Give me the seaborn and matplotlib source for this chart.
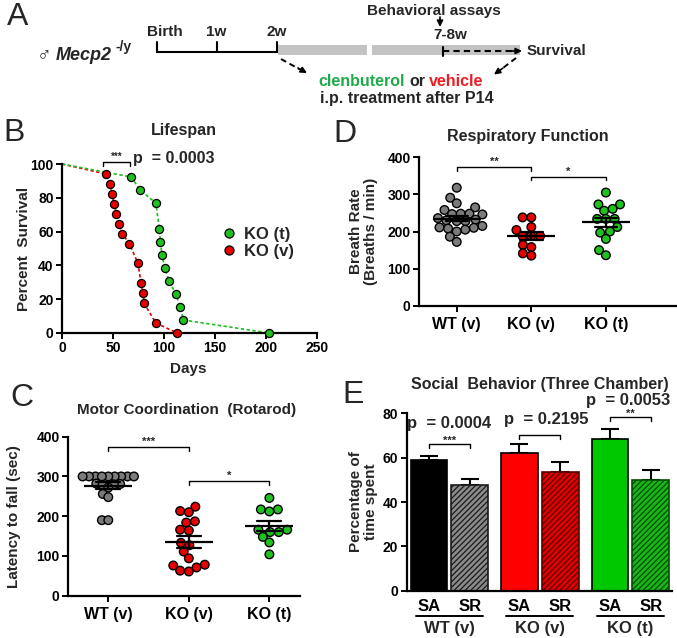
import numpy as np
import pandas as pd
import matplotlib
matplotlib.use("Agg")
import matplotlib.pyplot as plt
import seaborn as sns
from matplotlib.lines import Line2D
from matplotlib.patches import Rectangle
import matplotlib.transforms as mtransforms

# ---------------- data ----------------
groups = ["WT (v)", "KO (v)", "KO (t)"]

# Panel B - survival (days, % surviving)
ko_t_days = [0, 68, 76.5, 92, 95.5, 96.5, 98, 100.7, 105, 111.5, 116, 119, 203]
ko_t_surv = [100, 92.3, 84.6, 76.9, 61.5, 53.8, 46.2, 38.5, 30.8, 23.1, 15.4, 7.7, 0]
ko_v_days = [0, 43, 47, 49, 51, 53, 56, 59, 66, 74.5, 77.5, 79.5, 80.5, 92, 113]
ko_v_surv = [100, 94.1, 88.2, 82.4, 76.5, 70.6, 64.7, 58.8, 52.9, 41.2, 29.4, 23.5, 17.6, 5.9, 0]
b_xticks = [0, 50, 100, 150, 200, 250]
b_yticks = [0, 20, 40, 60, 80, 100]

# Panel C - rotarod latency to fall (sec)
rotarod_wt = [300, 300, 300, 300, 300, 300, 300, 300, 300, 282, 281, 280, 279, 272, 256, 248, 190, 190]
rotarod_kov = [213, 210, 224, 184, 187, 164, 166, 127, 133, 111, 94, 78, 71, 61, 63, 76]
rotarod_kot = [246, 217, 217, 212, 166, 160, 160, 166, 148, 134, 104]
c_yticks = [0, 100, 200, 300, 400]

# Panel D - breath rate (breaths / min)
breath_wt = [318, 291, 276, 265, 258, 248, 248, 247, 246, 236, 232, 230, 228, 228, 215, 211, 210, 208, 205, 200, 186, 172]
breath_kov = [238, 238, 212, 204, 188, 188, 188, 164, 158, 141, 135]
breath_kot = [305, 273, 273, 261, 256, 234, 234, 234, 212, 200, 197, 180, 150, 136]
d_yticks = [0, 100, 200, 300, 400]

# Panel E - social behaviour (% time spent), mean and SEM
sides = ["SA", "SR"]
social_sa_mean = [58.9, 62.2, 68.4]
social_sa_sem = [1.8, 4.0, 4.4]
social_sr_mean = [47.5, 53.4, 50.0]
social_sr_sem = [3.0, 4.6, 4.4]
social_p = ["p  = 0.0004", "p  = 0.2195", "p  = 0.0053"]
social_stars = ["***", "", "**"]
e_yticks = [0, 20, 40, 60, 80]

# ---------------- style ----------------
sns.set_style("ticks")
plt.rcParams.update({
    "font.family": ["Liberation Sans", "DejaVu Sans"],
    "font.weight": "bold",
    "axes.labelweight": "bold",
    "axes.titleweight": "bold",
    "axes.linewidth": 1.6,
    "axes.edgecolor": "black",
    "xtick.color": "black", "ytick.color": "black",
    "xtick.major.width": 1.4, "ytick.major.width": 1.4,
    "xtick.major.size": 4, "ytick.major.size": 4,
    "hatch.linewidth": 0.9,
})

GRAY, RED, GREEN = "#7b7b7b", "#e60000", "#1fc01f"
pal = dict(zip(groups, [GRAY, RED, GREEN]))

W, H = 677, 638
fig = plt.figure(figsize=(W / 100, H / 100), dpi=100)


def add_ax(l, t, r, b):
    ax = fig.add_axes([l / W, 1 - b / H, (r - l) / W, (b - t) / H])
    ax.patch.set_visible(False)
    return ax


ov = fig.add_axes([0, 0, 1, 1], zorder=10)
ov.set_xlim(0, W)
ov.set_ylim(H, 0)
ov.axis("off")
ov.patch.set_visible(False)

TICK_FS = 10
LAB_FS = 11


def prism(ax):
    sns.despine(ax=ax)
    ax.tick_params(labelsize=TICK_FS, pad=2)


def bracket(ax, x1, x2, y, h, text, fs=8, dy=0):
    ax.plot([x1, x1, x2, x2], [y - h, y, y, y - h], color="black", lw=1, clip_on=False)
    if text:
        ax.text((x1 + x2) / 2, y + dy, text, ha="center", va="bottom", fontsize=fs, clip_on=False)


# ---------------- Panel A (schematic) ----------------
ov.text(18, 17, "A", fontsize=23, fontweight="normal", ha="center", va="center")
tl_y = 52.3
ov.plot([156.7, 276.5], [tl_y, tl_y], color="k", lw=1.5)
for x in [156.7, 216.7, 276.5]:
    ov.plot([x, x], [tl_y, 41.7], color="k", lw=1.5)
for lab, x in zip(["Birth", "1w", "2w"], [165, 216, 276.7]):
    ov.text(x, 31.5, lab, ha="center", va="center", fontsize=11)
ov.add_patch(Rectangle((278.3, 45), 88.4, 10, color="#c3c3c3", lw=0))
ov.add_patch(Rectangle((372.3, 45), 147.7, 10, color="#c3c3c3", lw=0))
ov.plot([443.3, 443.3], [46.5, 55.5], color="k", lw=1.5)
ov.plot([443.3, 512], [51, 51], color="k", lw=1.5, ls=(0, (3, 2)))
arrow_kw = dict(arrowstyle="-|>", color="k", lw=1.2, mutation_scale=9, shrinkA=0, shrinkB=0)
ov.annotate("", xy=(522, 51), xytext=(510, 51), arrowprops=arrow_kw)
ov.text(450, 35, "7-8w", ha="center", va="center", fontsize=11)
ov.text(434, 11, "Behavioral assays", ha="center", va="center", fontsize=11)
ov.annotate("", xy=(440, 27), xytext=(440, 17), arrowprops=arrow_kw)
ov.text(527, 51, "Survival", ha="left", va="center", fontsize=11)
ov.text(44, 55, "\u2642", ha="center", va="center", fontsize=14)
ov.text(56, 56, "Mecp2", ha="left", va="center", fontsize=13, style="italic")
ov.text(116, 47, "-/y", ha="left", va="center", fontsize=10)
# dashed diagonal arrows
ov.plot([281, 300], [59, 69.5], color="k", lw=1.4, ls=(0, (3, 2)))
ov.annotate("", xy=(307, 73), xytext=(298, 68), arrowprops=arrow_kw)
ov.plot([516, 501], [58, 69.5], color="k", lw=1.4, ls=(0, (3, 2)))
ov.annotate("", xy=(494, 74.5), xytext=(503, 68), arrowprops=arrow_kw)
ov.text(405, 81, "clenbuterol", ha="right", va="center", fontsize=11.5, color="#1faa4a")
ov.text(417, 81, "or", ha="center", va="center", fontsize=11.5)
ov.text(429, 81, "vehicle", ha="left", va="center", fontsize=11.5, color="#ee1c24")
ov.text(407, 99, "i.p. treatment after P14", ha="center", va="center", fontsize=11.5)

# ---------------- Panel B ----------------
ov.text(14, 133, "B", fontsize=23, fontweight="normal", ha="center", va="center")
ov.text(184, 131, "Lifespan", ha="center", va="center", fontsize=11.5)
axB = add_ax(62, 164, 317, 333)
dfB_t = pd.DataFrame({"day": ko_t_days, "surv": ko_t_surv})
dfB_v = pd.DataFrame({"day": ko_v_days, "surv": ko_v_surv})
sns.lineplot(data=dfB_v, x="day", y="surv", ax=axB, color=RED, lw=1.2, ls=(0, (2, 1.5)),
             sort=False, estimator=None, clip_on=False)
sns.lineplot(data=dfB_t, x="day", y="surv", ax=axB, color=GREEN, lw=1.2, ls=(0, (2, 1.5)),
             sort=False, estimator=None, clip_on=False)
sns.scatterplot(data=dfB_v.iloc[1:], x="day", y="surv", ax=axB, color=RED, edgecolor="black",
                s=34, linewidth=0.9, zorder=4, clip_on=False)
sns.scatterplot(data=dfB_t.iloc[1:], x="day", y="surv", ax=axB, color=GREEN, edgecolor="black",
                s=34, linewidth=0.9, zorder=4, clip_on=False)
axB.set_xlim(0, 250)
axB.set_ylim(0, 100)
axB.set_xticks(b_xticks)
axB.set_yticks(b_yticks)
axB.set_xlabel("Days", fontsize=LAB_FS)
axB.set_ylabel("Percent  Survival", fontsize=LAB_FS)
axB.yaxis.set_label_coords(-0.121, 0.5)
axB.xaxis.set_label_coords(0.494, -0.172)
prism(axB)
bracket(axB, 40, 67, 101, 2, "***", fs=7, dy=0)
axB.text(70, 103.5, "p  = 0.0003", ha="left", va="center", fontsize=11.5, clip_on=False)
handles = [Line2D([], [], marker="o", ls="none", markersize=6.5, markerfacecolor=GREEN,
                  markeredgecolor="black", markeredgewidth=0.9),
           Line2D([], [], marker="o", ls="none", markersize=6.5, markerfacecolor=RED,
                  markeredgecolor="black", markeredgewidth=0.9)]
fig.legend(handles, ["KO (t)", "KO (v)"], loc="upper left", bbox_to_anchor=(222 / W, 1 - 227 / H),
           frameon=False, fontsize=12, handlelength=0.8, handletextpad=0.5, labelspacing=0.1,
           borderpad=0, borderaxespad=0)


# ---------------- Panels C & D (scatter dot plots) ----------------
def dotplot(ax, values_by_group, yticks, ylabel, xlim):
    df = pd.DataFrame({
        "group": np.repeat(groups, [len(v) for v in values_by_group]),
        "value": np.concatenate([np.asarray(v, float) for v in values_by_group]),
    })
    n_before = len(ax.collections)
    # swarm laid out with a compact spacing (Prism-style overlapping dots) ...
    sns.swarmplot(data=df, x="group", y="value", hue="group", order=groups, hue_order=groups,
                  palette=pal, size=5.0, edgecolor="black", linewidth=1, legend=False, ax=ax,
                  zorder=2)
    swarm_cols = ax.collections[n_before:]
    sns.pointplot(data=df, x="group", y="value", order=groups, errorbar="se", capsize=0.3,
                  color="black", marker="_", markersize=34, markeredgewidth=1.6, linestyle="none",
                  err_kws={"linewidth": 1.6, "zorder": 6}, ax=ax, zorder=6)
    ax.set_ylim(0, 400)
    ax.set_xlim(*xlim)
    ax.set_yticks(yticks)
    ax.set_xlabel("")
    ax.set_ylabel(ylabel, fontsize=LAB_FS, linespacing=1.05)
    prism(ax)
    ax.tick_params(axis="x", labelsize=11.5, pad=4)
    return swarm_cols


ov.text(22, 398, "C", fontsize=23, fontweight="normal", ha="center", va="center")
ov.text(187, 410, "Motor Coordination  (Rotarod)", ha="center", va="center", fontsize=LAB_FS)
axC = add_ax(68, 436.7, 300, 595.7)
colsC = dotplot(axC, [rotarod_wt, rotarod_kov, rotarod_kot], c_yticks, "Latency to fall (sec)",
                (-0.5, 2.38))
axC.yaxis.set_label_coords(-0.203, 0.5)
bracket(axC, 0, 1, 375, 10, "***", fs=8, dy=-1)
bracket(axC, 1, 2, 289, 10, "*", fs=8, dy=-1)
# the crowded ceiling row of WT dots overlaps more tightly in the original
colsC[0].set_sizes([3.4 ** 2] * len(colsC[0].get_offsets()))

ov.text(345, 134, "D", fontsize=23, fontweight="normal", ha="center", va="center")
ov.text(528, 136, "Respiratory Function", ha="center", va="center", fontsize=11.5)
axD = add_ax(419, 157.3, 676, 305.7)
colsD = dotplot(axD, [breath_wt, breath_kov, breath_kot], d_yticks, "Breath Rate\n(Breaths / min)",
                (-0.506, 2.94))
axD.yaxis.set_label_coords(-0.16, 0.5)
bracket(axD, 0, 1, 375, 11, "**", fs=8, dy=-1)
bracket(axD, 1, 2, 348, 10, "*", fs=8, dy=-1)

# ... then the dots are drawn at full size over that layout
fig.canvas.draw()
for col in list(colsC) + list(colsD):
    if "draw" in col.__dict__:
        del col.draw
    col.set_sizes([6.2 ** 2] * len(col.get_offsets()))

# ---------------- Panel E ----------------
ov.text(353, 395, "E", fontsize=23, fontweight="normal", ha="center", va="center")
ov.text(540, 385, "Social  Behavior (Three Chamber)", ha="center", va="center", fontsize=11.5)
axE = add_ax(406.7, 413.3, 672, 590.7)
dfE = pd.DataFrame({
    "group": groups + groups,
    "side": [sides[0]] * len(groups) + [sides[1]] * len(groups),
    "mean": social_sa_mean + social_sr_mean,
    "sem": social_sa_sem + social_sr_sem,
})
sns.barplot(data=dfE, x="group", y="mean", hue="side", order=groups, hue_order=sides,
            errorbar=None, width=0.9, gap=0.1, legend=False, ax=axE,
            linewidth=1.2, edgecolor="black", zorder=2)
sa_face = ["#000000", "#ff0000", "#00c800"]
sr_face = ["#8a8a8a", "#e00000", "#19b519"]
sr_hatch = ["#1a1a1a", "#5a0000", "#004d00"]
centers, labels_x = [], []
for side, cont in zip(sides, axE.containers):
    for j, patch in enumerate(cont):
        if side == "SA":
            patch.set_facecolor(sa_face[j])
            patch.set_edgecolor("black")
        else:
            patch.set_facecolor(sr_face[j])
            patch.set_edgecolor(sr_hatch[j])
            patch.set_hatch("//////")
        centers.append(patch.get_x() + patch.get_width() / 2)
        labels_x.append(side)
sem_all = social_sa_sem + social_sr_sem
mean_all = social_sa_mean + social_sr_mean
axE.errorbar(centers, mean_all, yerr=[np.zeros(len(sem_all)), sem_all], fmt="none",
             ecolor="black", elinewidth=1.5, capsize=6.5, capthick=1.5, zorder=1)
order = np.argsort(centers)
axE.set_xticks(np.asarray(centers)[order])
axE.set_xticklabels(np.asarray(labels_x)[order])
axE.set_xlim(-0.47, 2.46)
axE.set_ylim(0, 80)
axE.set_yticks(e_yticks)
axE.set_xlabel("")
axE.set_ylabel("Percentage of\ntime spent", fontsize=LAB_FS, linespacing=1.05)
axE.yaxis.set_label_coords(-0.108, 0.5)
prism(axE)
axE.tick_params(axis="x", length=0, labelsize=12, pad=6)
trans = mtransforms.blended_transform_factory(axE.transData, axE.transAxes)
for gi, g in enumerate(groups):
    axE.plot([gi - 0.37, gi + 0.37], [-0.143, -0.143], color="black", lw=1.4,
             transform=trans, clip_on=False)
    axE.text(gi, -0.215, g, ha="center", va="center", fontsize=12, transform=trans)
# significance annotations
p_pos = [(0.0, 75.2), (1.076, 77.0), (1.97, 85.7)]
br_y = [66.2, 70.2, 78.2]
for gi in range(len(groups)):
    xs = [centers[gi], centers[gi + len(groups)]]
    bracket(axE, xs[0], xs[1], br_y[gi], 1.7, social_stars[gi], fs=8, dy=-0.9)
    axE.text(p_pos[gi][0], p_pos[gi][1], social_p[gi], ha="center", va="center",
             fontsize=12, clip_on=False)

fig.savefig("out.png", dpi=100)
